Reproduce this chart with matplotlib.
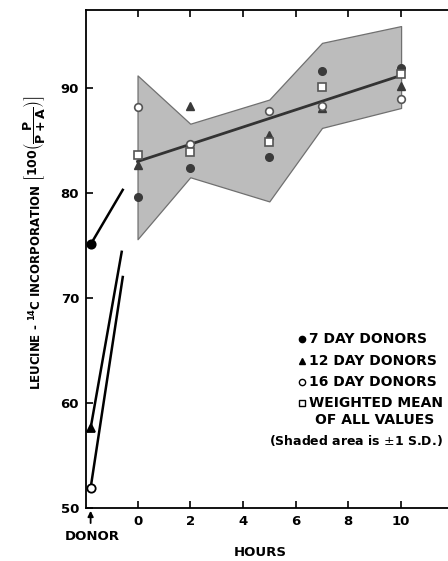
import matplotlib
matplotlib.use('Agg')
import matplotlib.pyplot as plt
import numpy as np

# data
hours = [0, 2, 5, 7, 10]
day7 = [79.6, 82.4, 83.4, 91.6, 91.9]
day12 = [82.7, 88.3, 85.5, 88.1, 90.2]
day16 = [88.2, 84.7, 87.8, 88.3, 89.0]
wmean = [83.6, 83.9, 84.9, 90.1, 91.3]
band_hi = [91.2, 86.6, 88.9, 94.3, 95.9]
band_lo = [75.6, 81.5, 79.2, 86.2, 88.1]
fit_x = [0, 10]
fit_y = [83.0, 91.2]

donor_x = -1.78
donor_vals = [75.1, 57.6, 51.9]        # 7, 12, 16 day donors
donor_end_x = [-0.56, -0.6, -0.56]
donor_end_y = [80.3, 74.4, 72.0]

W, H = 448, 561
fig = plt.figure(figsize=(W / 100, H / 100), dpi=100)
ax = fig.add_axes([86 / W, 1 - 508 / H, (W - 86) / W, (508 - 10) / H])

# shaded +/- 1 SD area
ax.fill_between(hours, band_lo, band_hi, facecolor='#bcbcbc', edgecolor='#707070',
                linewidth=0.9, zorder=1)
ax.plot(fit_x, fit_y, color='#333333', lw=2.0, zorder=3)

pt = dict(ms=5.5, zorder=4, ls='none')
ax.plot(hours, day7, marker='o', color='#3a3a3a', **pt)
ax.plot(hours, day12, marker='^', color='#3a3a3a', **pt)
ax.plot(hours, day16, marker='o', mfc='white', mec='#555555', mew=1.2, **pt)
ax.plot(hours, wmean, marker='s', mfc='white', mec='#555555', mew=1.2, **pt)

# donor values and connecting lines
for m, fill, y0, xe, ye in zip(['o', '^', 'o'], ['black', 'black', 'white'],
                               donor_vals, donor_end_x, donor_end_y):
    ax.plot([donor_x, xe], [y0, ye], color='black', lw=1.8, zorder=3)
    ax.plot(donor_x, y0, marker=m, mfc=fill, mec='black', mew=1.3, ms=6,
            zorder=5, clip_on=False)

ax.set_xlim(-1.955, 11.78)
ax.set_ylim(50, 97.43)
ax.set_xticks([0, 2, 4, 6, 8, 10])
ax.set_yticks([50, 60, 70, 80, 90])
ax.tick_params(direction='in', length=5, width=1.2, top=True, labelsize=9.5, pad=5)
for lab in ax.get_xticklabels() + ax.get_yticklabels():
    lab.set_fontweight('bold')
ax.spines['right'].set_visible(False)
for s in ['left', 'bottom', 'top']:
    ax.spines[s].set_linewidth(1.3)

# donor arrow
ax.annotate('', xy=(donor_x, 50), xycoords='data',
            xytext=(donor_x, 48.3), textcoords='data',
            arrowprops=dict(arrowstyle='-|>', color='black', lw=1.3, mutation_scale=8),
            annotation_clip=False)
fig.text(92 / W, 1 - 537 / H, 'DONOR', ha='center', va='center',
         fontsize=9.5, fontweight='bold')
fig.text(260 / W, 1 - 553 / H, 'HOURS', ha='center', va='center',
         fontsize=9.5, fontweight='bold')

# y label: words, then the bracketed expression
fig.text(36 / W, 1 - 287 / H, r'LEUCINE - $^{\mathbf{14}}$C INCORPORATION',
         rotation=90, ha='center', va='center', fontsize=8.5, fontweight='bold')
fig.text(34 / W, 1 - 138 / H,
         r'$\left[\mathbf{100}\left(\dfrac{\mathbf{P}}{\mathbf{P+A}}\right)\right]$',
         rotation=90, ha='center', va='center', fontsize=9, fontweight='bold')

# legend drawn by hand
leg = [('o', 'black', '7 DAY DONORS', 339),
       ('^', 'black', '12 DAY DONORS', 361),
       ('o', 'white', '16 DAY DONORS', 382),
       ('s', 'white', 'WEIGHTED MEAN', 403)]
for m, fill, txt, yy in leg:
    fig.add_artist(plt.Line2D([302 / W], [1 - yy / H], marker=m, mfc=fill, mec='black',
                              mew=1.0, ms=4.5, ls='none', transform=fig.transFigure))
    fig.text(309 / W, 1 - yy / H, txt, ha='left', va='center',
             fontsize=10, fontweight='bold')
fig.text(375 / W, 1 - 420 / H, 'OF ALL VALUES', ha='center', va='center',
         fontsize=10, fontweight='bold')
fig.text(356 / W, 1 - 440 / H, '(Shaded area is $\\pm$1 S.D.)', ha='center', va='center',
         fontsize=9, fontweight='bold')

plt.savefig('out.png', dpi=100)
